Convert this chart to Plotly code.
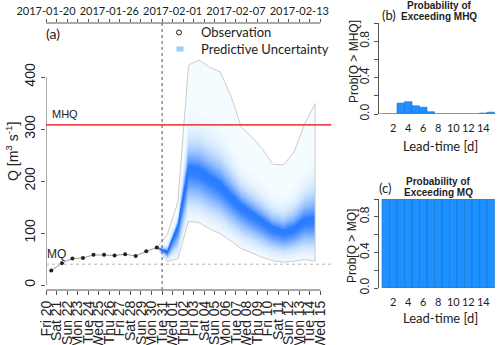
import math
import pandas as pd
import plotly.graph_objects as go

# ---- data ----
day_labels = ['Fri 20', 'Sat 21', 'Sun 22', 'Mon 23', 'Tue 24', 'Wed 25', 'Thu 26', 'Fri 27',
              'Sat 28', 'Sun 29', 'Mon 30', 'Tue 31', 'Wed 01', 'Thu 02', 'Fri 03', 'Sat 04',
              'Sun 05', 'Mon 06', 'Tue 07', 'Wed 08', 'Thu 09', 'Fri 10', 'Sat 11', 'Sun 12',
              'Mon 13', 'Tue 14', 'Wed 15']
day_ticks = pd.date_range('2017-01-20', '2017-02-15', freq='D')
top_dates = ['2017-01-20', '2017-01-26', '2017-02-01', '2017-02-07', '2017-02-13']

obs_time = pd.date_range('2017-01-20 12:00', periods=11, freq='D')
obs_q = [28, 42, 51, 52, 58, 58, 57, 59, 56, 65, 72]

fc_time = pd.date_range('2017-01-30 12:00', periods=16, freq='D')
fc_median = [72, 64, 115, 226, 222, 208, 194, 172, 153, 138, 124, 110, 103, 110, 125, 128]
fc_lower = [72, 45, 51, 123, 120, 108, 99, 85, 70, 62, 53, 47, 44, 46, 49, 46]
fc_upper = [72, 97, 160, 423, 433, 419, 410, 365, 304, 285, 262, 232, 231, 256, 310, 349]

MHQ = 308
MQ = 40
forecast_start = '2017-01-31'

lead_time = [1, 2, 3, 4, 5, 6, 7, 8, 9, 10, 11, 12, 13, 14, 15]
prob_mhq = [0, 0, 0.12, 0.135, 0.09, 0.075, 0.025, 0, 0, 0, 0, 0, 0, 0.01, 0.02]
prob_mq = [1, 1, 1, 1, 1, 1, 1, 1, 1, 1, 1, 1, 1, 1, 1]

W, H = 500, 345
ARIAL = 'Liberation Sans'
CALI = 'Lato'
BLUE = '#1E90FF'


def px(x):
    return x / W


def py(y):
    return 1 - y / H


fig = go.Figure()

# Predictive uncertainty shading: stacked translucent bands around the median
alpha = 0.025
s_hi, s_lo = 0.19, 0.55
j = 1
while True:
    level = 1 - (1 - alpha) ** j
    if level > 0.92:
        break
    r = -math.log(level / 0.92)
    e_hi = min(1.0, s_hi * r ** 0.8)
    e_lo = min(1.0, s_lo * math.sqrt(r))
    up = [m + e_hi * (u - m) for m, u in zip(fc_median, fc_upper)]
    lo = [m - e_lo * (m - l) for m, l in zip(fc_median, fc_lower)]
    fig.add_trace(go.Scatter(
        x=list(fc_time) + list(fc_time[::-1]), y=up + lo[::-1],
        fill='toself', fillcolor='rgba(30,144,255,%.3f)' % alpha,
        line=dict(width=0), mode='lines', hoverinfo='skip'))
    j += 1

# faint full envelope + its grey outline
fig.add_trace(go.Scatter(
    x=list(fc_time) + list(fc_time[::-1]) + [fc_time[0]],
    y=fc_upper + fc_lower[::-1] + [fc_upper[0]],
    fill='toself', fillcolor='rgba(0,180,255,0.04)',
    line=dict(color='#cccccc', width=1), mode='lines', hoverinfo='skip'))

# observations
fig.add_trace(go.Scatter(
    x=obs_time, y=obs_q, mode='lines+markers',
    line=dict(color='#9a9a9a', width=1),
    marker=dict(color='#222', size=4)))

# invisible trace so the top axis is drawn
fig.add_trace(go.Scatter(x=[day_ticks[0]], y=[0], xaxis='x2', mode='markers',
                         marker=dict(opacity=0), hoverinfo='skip'))

# lead-time bars
fig.add_trace(go.Bar(x=lead_time, y=prob_mhq, width=1, xaxis='x3', yaxis='y3',
                     marker=dict(color=BLUE, line=dict(color='#1874CD', width=0.6))))
fig.add_trace(go.Bar(x=lead_time, y=prob_mq, width=1, xaxis='x4', yaxis='y4',
                     marker=dict(color=BLUE, line=dict(color='#1874CD', width=0.6))))

x_end = pd.Timestamp('2017-02-16 01:12')
main_dom_y = [py(290), py(23)]

common = dict(showgrid=False, zeroline=False, automargin=False)

fig.update_layout(
    template='none',
    width=W, height=H, margin=dict(l=0, r=0, t=0, b=0),
    plot_bgcolor='white', paper_bgcolor='white', showlegend=False,
    font=dict(family=ARIAL, color='#222'),
    xaxis=dict(domain=[px(46), px(331.5)], range=[day_ticks[0], x_end], anchor='y',
               tickvals=day_ticks, ticktext=day_labels, tickangle=-90,
               ticks='outside', ticklen=4, tickcolor='#555',
               tickfont=dict(family=ARIAL, size=14, color='#222'),
               showline=False, **common),
    xaxis2=dict(overlaying='x', side='top', anchor='y', range=[day_ticks[0], x_end],
                tickvals=day_ticks,
                ticktext=[d.strftime('%Y-%m-%d') if d.strftime('%Y-%m-%d') in top_dates else ' '
                          for d in day_ticks],
                ticks='outside', ticklen=3, tickcolor='#555', tickangle=0,
                tickfont=dict(family=CALI, size=11, color='#222'),
                showline=False, **common),
    yaxis=dict(domain=main_dom_y, range=[-9.6, 504], anchor='x',
               tickvals=[0, 100, 200, 300, 400], tickangle=-90,
               ticks='outside', ticklen=4, tickcolor='#555',
               tickfont=dict(family=ARIAL, size=14, color='#222'),
               showline=False, **common),
    xaxis3=dict(domain=[px(379), px(499)], range=[0.1, 16.1], anchor='y3',
                tickvals=[2, 4, 6, 8, 10, 12, 14], ticks='outside', ticklen=4,
                tickcolor='rgba(0,0,0,0)', tickangle=0,
                tickfont=dict(family=CALI, size=11, color='#222'),
                showline=False, **common),
    yaxis3=dict(domain=[py(114), py(23)], range=[0, 1], anchor='x3',
                tickvals=[0, 0.2, 0.4, 0.6, 0.8, 1.0],
                ticktext=['0.0', ' ', '0.4', ' ', '0.8', ' '], tickangle=-90,
                ticks='outside', ticklen=4, tickcolor='#555',
                tickfont=dict(family=ARIAL, size=12, color='#222'),
                showline=True, linecolor='#555', linewidth=1, **common),
    xaxis4=dict(domain=[px(379), px(499)], range=[0.1, 16.1], anchor='y4',
                tickvals=[2, 4, 6, 8, 10, 12, 14], ticks='outside', ticklen=4,
                tickcolor='rgba(0,0,0,0)', tickangle=0,
                tickfont=dict(family=CALI, size=11, color='#222'),
                showline=False, **common),
    yaxis4=dict(domain=[py(288), py(199)], range=[0, 1], anchor='x4',
                tickvals=[0, 0.2, 0.4, 0.6, 0.8, 1.0],
                ticktext=['0.0', ' ', '0.4', ' ', '0.8', ' '], tickangle=-90,
                ticks='outside', ticklen=4, tickcolor='#555',
                tickfont=dict(family=ARIAL, size=12, color='#222'),
                showline=True, linecolor='#555', linewidth=1, **common),
)

shapes = [
    # axis lines of the main panel (R style, only over the tick span)
    dict(type='line', xref='x', yref='y', x0=day_ticks[0], x1=day_ticks[0], y0=0, y1=400,
         line=dict(color='#555', width=1)),
    dict(type='line', xref='x', yref='paper', x0=day_ticks[0], x1=day_ticks[-1],
         y0=main_dom_y[0], y1=main_dom_y[0], line=dict(color='#555', width=1)),
    dict(type='line', xref='x', yref='paper', x0=day_ticks[0], x1=day_ticks[-1],
         y0=main_dom_y[1], y1=main_dom_y[1], line=dict(color='#555', width=1)),
    # thresholds
    dict(type='line', xref='x', yref='y', x0=day_ticks[0], x1=x_end, y0=MQ, y1=MQ,
         line=dict(color='#b8b8b8', width=1, dash='dot')),
    dict(type='line', xref='x', yref='y', x0=day_ticks[0], x1=x_end, y0=MHQ, y1=MHQ,
         line=dict(color='#f04848', width=1.6)),
    # forecast issue time
    dict(type='line', xref='x', yref='paper', x0=forecast_start, x1=forecast_start,
         y0=main_dom_y[0], y1=main_dom_y[1], line=dict(color='#555', width=1, dash='dot')),
    # zero line of panel (b)
    dict(type='line', xref='x3', yref='y3', x0=0.1, x1=15.5, y0=0, y1=0,
         line=dict(color=BLUE, width=1.2)),
    # legend symbols
    dict(type='circle', xref='paper', yref='paper', x0=px(176.5), x1=px(181.5),
         y0=py(35), y1=py(30), line=dict(color='#222', width=1)),
    dict(type='rect', xref='paper', yref='paper', x0=px(176.5), x1=px(183.5),
         y0=py(51.5), y1=py(46.5), line=dict(width=0), fillcolor='rgb(150,205,255)'),
]
fig.update_layout(shapes=shapes)


def note(text, x, y, size, family=ARIAL, angle=0, xanchor='center', bold=False):
    if bold:
        text = '<b>' + text + '</b>'
    fig.add_annotation(text=text, x=px(x), y=py(y), xref='paper', yref='paper',
                       showarrow=False, textangle=angle, xanchor=xanchor, yanchor='middle',
                       font=dict(family=family, size=size, color='#222'))


note('(a)', 52.5, 34, 14, CALI)
note('Observation', 199, 32.5, 13, CALI, xanchor='left')
note('Predictive Uncertainty', 199, 49, 13, CALI, xanchor='left')
note('MHQ', 65, 114, 11)
note('MQ', 56, 254, 12)
note('Q [m<sup>3</sup> s<sup>-1</sup>]', 12, 152, 14, angle=-90)

note('(b)', 389, 15, 13, CALI)
note('Probability of', 439, 5.5, 10, bold=True)
note('Exceeding MHQ', 439, 16, 10, bold=True)
note('Prob[Q &gt; MHQ]', 354, 62, 12, angle=-90)
note('Lead-time [d]', 440, 146, 13, CALI)

note('(c)', 385.5, 187.5, 13, CALI)
note('Probability of', 438, 181, 10, bold=True)
note('Exceeding MQ', 438, 192.5, 10, bold=True)
note('Prob[Q &gt; MQ]', 352, 246, 12, angle=-90)
note('Lead-time [d]', 440, 318, 13, CALI)

# keep the figure at the very top-left corner of the page, no mode bar
fig.write_html('out.html', config={'displayModeBar': False},
               post_script="document.body.style.margin='0px';")
